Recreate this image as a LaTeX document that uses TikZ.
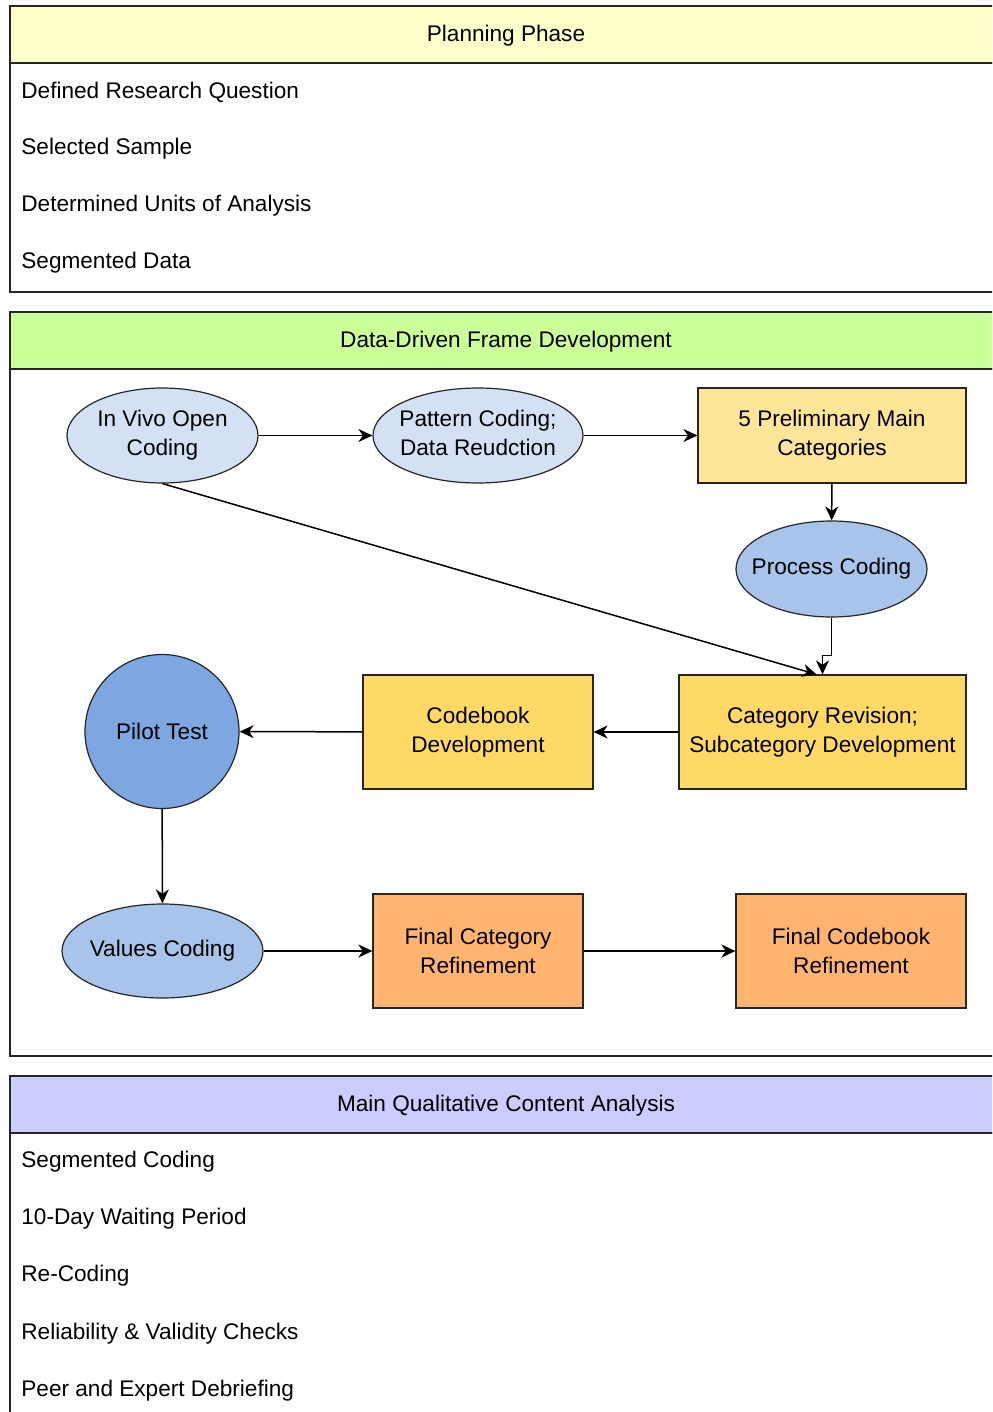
\documentclass[tikz,border=0pt]{standalone}
\usepackage{fontspec}
\setmainfont{Liberation Sans}
\usetikzlibrary{shapes.geometric,arrows.meta}

\definecolor{planhead}{HTML}{FFFFCC}
\definecolor{framehead}{HTML}{CCFF99}
\definecolor{mainhead}{HTML}{CCCCFF}
\definecolor{paleblue}{HTML}{D4E1F5}
\definecolor{midblue}{HTML}{A9C4EB}
\definecolor{deepblue}{HTML}{7EA6E0}
\definecolor{paleyellow}{HTML}{FFE599}
\definecolor{gold}{HTML}{FFD966}
\definecolor{apricot}{HTML}{FFB570}

% zero-width centred text, so that the ellipse keeps its given size
\newcommand\ctext[1]{\makebox[0pt]{\raisebox{-1.2pt}{\begin{tabular}{@{}c@{}}#1\end{tabular}}}}

\tikzset{
  frame/.style={draw=black!85, line width=0.8pt},
  heading/.style={anchor=center, inner sep=0pt},
  item/.style={anchor=west, inner sep=0pt},
  ell/.style={ellipse, draw=black!85, line width=0.6pt, inner sep=0pt, align=center},
  box/.style={rectangle, draw=black!85, line width=0.6pt, inner sep=0pt, align=center},
  arr/.style={draw=black, line width=0.75pt, -{Stealth[length=7pt,width=6.5pt,inset=2.2pt]}},
}

\begin{document}
\begin{tikzpicture}[x=0.5pt,y=-0.5pt,font=\fontsize{11.3}{14.5}\selectfont]
\useasboundingbox (0,0) rectangle (992,1412);
\clip (0,0) rectangle (992,1412);
\fill[white] (0,0) rectangle (992,1412);

% ---- Planning Phase ----
\draw[frame, fill=planhead] (10,6) rectangle (1002,63);
\draw[frame] (10,63) rectangle (1002,292);
\node[heading] (plan) at (506,36) {Planning Phase};
\node[item] (p1) at (21,92) {Defined Research Question};
\node[item] (p2) at (21,149) {Selected Sample};
\node[item] (p3) at (21,206) {Determined Units of Analysis};
\node[item] (p4) at (21,263) {Segmented Data};

% ---- Data-Driven Frame Development ----
\draw[frame, fill=framehead] (10,312) rectangle (1002,369);
\draw[frame] (10,369) rectangle (1002,1056);
\node[heading] (dd) at (506,342) {Data-Driven Frame Development};

\node[ell, fill=paleblue, minimum width=95.5pt, minimum height=47.5pt] (invivo) at (162.5,435.5) {\ctext{In Vivo Open\\Coding}};
\node[ell, fill=paleblue, minimum width=105pt, minimum height=47.5pt] (pattern) at (478,435.5) {\ctext{Pattern Coding;\\Data Reudction}};
\node[box, fill=paleyellow, minimum width=134pt, minimum height=47.5pt] (prelim) at (832,435.5) {5 Preliminary Main\\Categories};
\node[ell, fill=midblue, minimum width=95.5pt, minimum height=48pt] (process) at (831.5,569) {\ctext{Process Coding}};
\node[box, fill=gold, minimum width=143.5pt, minimum height=57pt] (catrev) at (822.5,732) {Category Revision;\\Subcategory Development};
\node[box, fill=gold, minimum width=115pt, minimum height=57pt] (codebook) at (478,732) {Codebook\\Development};
\node[circle, draw=black!85, line width=0.6pt, fill=deepblue, minimum size=77pt, inner sep=0pt] (pilot) at (162,731.5) {Pilot Test};
\node[ell, fill=midblue, minimum width=100.5pt, minimum height=47pt] (values) at (162.5,951) {\ctext{Values Coding}};
\node[box, fill=apricot, minimum width=105pt, minimum height=57pt] (finalcat) at (478,951) {Final Category\\Refinement};
\node[box, fill=apricot, minimum width=115pt, minimum height=57pt] (finalcode) at (851,951) {Final Codebook\\Refinement};

\draw[arr] (invivo) -- (pattern);
\draw[arr] (pattern) -- (prelim);
\draw[arr] (prelim) -- (process);
\draw[arr] (invivo.south) -- ([xshift=-3pt]catrev.north);
\draw[arr] (process.south) -- ++(0,38) -| (catrev.north);
\draw[arr] (catrev) -- (codebook);
\draw[arr] (codebook) -- (pilot);
\draw[arr] (pilot) -- (values);
\draw[arr] (values) -- (finalcat);
\draw[arr] (finalcat) -- (finalcode);

% ---- Main Qualitative Content Analysis ----
\draw[frame, fill=mainhead] (10,1076) rectangle (1002,1133);
\draw[frame] (10,1133) rectangle (1002,1440);
\node[heading] (main) at (506,1106) {Main Qualitative Content Analysis};
\node[item] (m1) at (21,1162) {Segmented Coding};
\node[item] (m2) at (21,1219) {10-Day Waiting Period};
\node[item] (m3) at (21,1276) {Re-Coding};
\node[item] (m4) at (21,1334) {Reliability \& Validity Checks};
\node[item] (m5) at (21,1391) {Peer and Expert Debriefing};
\end{tikzpicture}
\end{document}
